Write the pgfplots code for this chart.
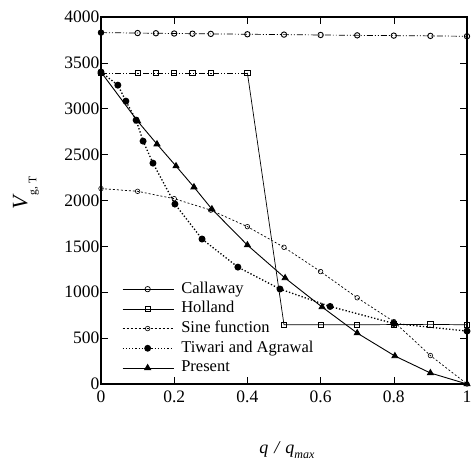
\documentclass[border=0pt]{standalone}
\usepackage{pgfplots}
\pgfplotsset{compat=1.18}
\usepackage{fontspec}
\setmainfont{Liberation Serif}
\begin{document}
\begin{tikzpicture}
\begin{axis}[
  scale only axis, width=366pt, height=367pt,
  xmin=0, xmax=1, ymin=0, ymax=4000,
  xtick={0,0.2,0.4,0.6,0.8,1}, xticklabels={0,0.2,0.4,0.6,0.8,1},
  ytick={0,500,...,4000},
  /pgf/number format/assume math mode=true,
  scaled y ticks=false,
  yticklabel style={/pgf/number format/fixed,/pgf/number format/1000 sep={}, xshift=2pt},
  xticklabel style={yshift=-3pt},
  ticklabel style={font=\fontsize{17.5}{19}\selectfont},
  tick align=inside, major tick length=7pt,
  tick style={black, line width=0.6pt},
  axis line style={line width=1.5pt},
  clip=false,
  legend style={draw=none, fill=none, at={(axis cs:0.057,1123)}, anchor=north west,
    font=\fontsize{16.5}{18}\selectfont, inner sep=0pt, row sep=3.7pt,
    nodes={text height=12pt, text depth=4pt, inner sep=0pt}},
  legend cell align=left,
  legend image code/.code={\draw[#1] (0pt,0pt) -- (51pt,0pt); \draw[#1, solid] plot coordinates {(25pt,0pt)};},
]
% legend images
\addlegendimage{black, line width=0.7pt, mark=o, mark size=2.7pt, mark options={solid}}
\addlegendentry{\hspace{7pt}Callaway}
\addlegendimage{black, line width=0.7pt, mark=square, mark size=2.6pt, mark options={solid}}
\addlegendentry{\hspace{7pt}Holland}
\addlegendimage{black, line width=0.6pt, dash pattern=on 2pt off 2pt, mark=o, mark size=2.3pt, mark options={solid}}
\addlegendentry{\hspace{7pt}Sine function}
\addlegendimage{black, line width=1.2pt, dotted, mark=*, mark size=2.8pt, mark options={solid}}
\addlegendentry{\hspace{7pt}Tiwari and Agrawal}
\addlegendimage{black, line width=0.9pt, mark=triangle*, mark size=3.4pt, mark options={solid}}
\addlegendentry{\hspace{7pt}Present}

% Callaway
\addplot[forget plot, black, line width=0.7pt, dash pattern=on 6pt off 2pt on 1pt off 2pt on 1pt off 2pt, mark=o, mark size=2.7pt, mark options={solid, line width=0.9pt}] coordinates {
(0,3830) (0.1,3825) (0.15,3823) (0.2,3820) (0.25,3818) (0.3,3816) (0.4,3812) (0.5,3808) (0.6,3804) (0.7,3800) (0.8,3797) (0.9,3794) (1.0,3790)};
\addplot[forget plot, only marks, black, mark=*, mark size=2.7pt] coordinates {(0,3830)};
% Holland
\addplot[forget plot, black, line width=0.7pt, dash pattern=on 6pt off 2pt on 1pt off 2pt on 1pt off 2pt, mark=square, mark size=2.6pt, mark options={solid, line width=0.9pt}] coordinates {
(0,3390) (0.1,3390) (0.15,3390) (0.2,3390) (0.25,3390) (0.3,3390) (0.4,3390)};
\addplot[forget plot, black, line width=0.7pt, mark=square, mark size=2.6pt, mark options={solid, line width=0.9pt}] coordinates {
(0.4,3390) (0.5,645) (0.6,645) (0.7,645) (0.8,648) (0.9,650) (1.0,645)};
% Sine function
\addplot[forget plot, black, line width=0.7pt, dash pattern=on 2pt off 2pt, mark=o, mark size=2.3pt, mark options={solid, line width=0.6pt}] coordinates {
(0,2130) (0.1,2100) (0.2,2020) (0.3,1895) (0.4,1715) (0.5,1490) (0.6,1225) (0.7,940) (0.8,680) (0.9,310) (1.0,0)};
% Tiwari and Agrawal
\addplot[forget plot, black, line width=1.3pt, dotted, mark=*, mark size=2.8pt, mark options={solid}] coordinates {
(0,3400) (0.046,3257) (0.068,3083) (0.096,2876) (0.115,2647) (0.142,2407) (0.202,1961) (0.276,1580) (0.374,1274) (0.489,1035) (0.626,845) (0.8,660) (1.0,577)};
% Present
\addplot[forget plot, black, line width=0.9pt, mark=triangle*, mark size=3.4pt] coordinates {
(0,3400) (0.1,2865) (0.153,2614) (0.205,2375) (0.254,2146) (0.303,1906) (0.4,1514) (0.503,1155) (0.604,839) (0.7,555) (0.803,305) (0.9,120) (1.0,0)};

\node[rotate=90, anchor=center] at (axis description cs:-0.205,0.52)
  {\fontsize{22}{24}\selectfont\itshape V\hspace{1pt}\raisebox{-9pt}{\fontsize{11.5}{13}\selectfont\upshape g, T}};
\node[anchor=center] at (axis description cs:0.508,-0.18)
  {\fontsize{18}{20}\selectfont\itshape q\,\,/\,\,q\raisebox{-5pt}{\fontsize{12}{13}\selectfont max}};
\end{axis}
\pgfresetboundingbox
\path ([xshift=-101pt,yshift=-86pt]current axis.south west) rectangle ([xshift=8pt,yshift=17pt]current axis.north east);
\end{tikzpicture}
\end{document}
